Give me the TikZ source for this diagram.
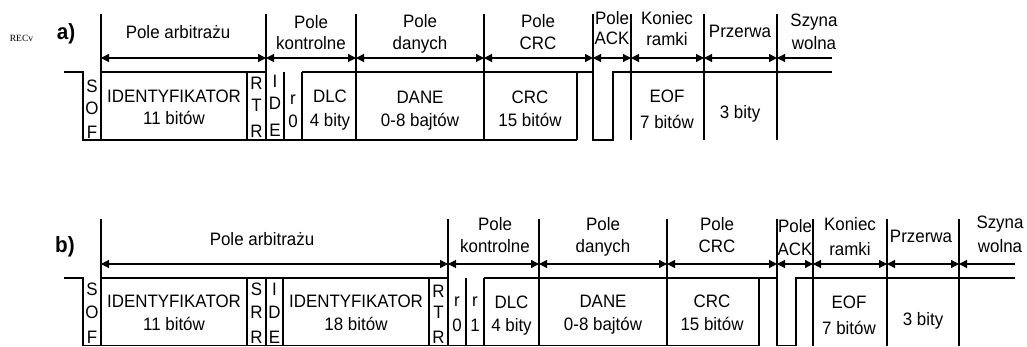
\documentclass[tikz,border=0pt]{standalone}
\usepackage{fontspec}
\setmainfont{Liberation Sans}[FakeStretch=0.94]
\newfontfamily\recfont{Liberation Serif}
\usetikzlibrary{arrows.meta}
\tikzset{
  ln/.style={line width=1.4pt},
  span/.style={line width=1.2pt,{Triangle[length=8pt,width=8pt]}-{Triangle[length=8pt,width=8pt]}},
  lspan/.style={line width=1.2pt,{Triangle[length=8pt,width=8pt]}-},
  lbl/.style={inner sep=0pt,anchor=base,font=\fontsize{18}{20}\selectfont},
  ttl/.style={inner sep=0pt,anchor=base,font=\fontsize{22}{24}\selectfont\bfseries},
}
\begin{document}
\begin{tikzpicture}[x=1pt,y=-1pt]
\useasboundingbox (0,0) rectangle (1027,347);
% ---------------- row a ----------------
\node[inner sep=0pt,anchor=base,font=\recfont\fontsize{9.5}{10}\selectfont] (rec) at (21.5,42) {RECv};
\node[ttl] (ta) at (66,40) {a)};
% signal
\draw[ln] (64,72) -- (83,72) -- (83,140) -- (577,140);
\draw[ln] (101,72) -- (266,72);
\draw[ln] (302,72) -- (593,72) -- (593,140) -- (613,140) -- (613,72) -- (832,72);
% full separators
\foreach \xx in {101,266,356,484,631,704,777} \draw[ln] (\xx,14) -- (\xx,140);
\draw[ln] (593,14) -- (593,72);
\foreach \xx in {247,284,302,577} \draw[ln] (\xx,72) -- (\xx,140);
% span arrows
\coordinate (a1) at (101,58);
\coordinate (a2) at (266,58);
\coordinate (a3) at (356,58);
\coordinate (a4) at (484,58);
\coordinate (a5) at (593,58);
\coordinate (a6) at (631,58);
\coordinate (a7) at (704,58);
\coordinate (a8) at (777,58);
\coordinate (a9) at (832,58);
\draw[span] (a1) -- (a2);
\draw[span] (a2) -- (a3);
\draw[span] (a3) -- (a4);
\draw[span] (a4) -- (a5);
\draw[span] (a5) -- (a6);
\draw[span] (a6) -- (a7);
\draw[span] (a7) -- (a8);
\draw[lspan] (a8) -- (a9);
% field labels
\node[lbl] (aarb) at (178,39) {Pole arbitrażu};
\node[lbl] (akon1) at (311,29) {Pole};
\node[lbl] (akon2) at (311,50) {kontrolne};
\node[lbl] (adan1) at (420,28) {Pole};
\node[lbl] (adan2) at (420,50) {danych};
\node[lbl] (acrc1) at (538,28) {Pole};
\node[lbl] (acrc2) at (538,50) {CRC};
\node[lbl] (aack1) at (612,25) {Pole};
\node[lbl] (aack2) at (612,45) {ACK};
\node[lbl] (akr1) at (667,25) {Koniec};
\node[lbl] (akr2) at (667,46) {ramki};
\node[lbl] (aprz) at (740,38) {Przerwa};
\node[lbl] (asz1) at (814,27) {Szyna};
\node[lbl] (asz2) at (814,50) {wolna};
% box texts
\foreach \ch/\yy [count=\i] in {S/93,O/115,F/139} \node[lbl] (asof\i) at (92,\yy) {\ch};
\foreach \ch/\yy [count=\i] in {R/90,T/112,R/138} \node[lbl] (artr\i) at (256.5,\yy) {\ch};
\foreach \ch/\yy [count=\i] in {I/88,D/110,E/137} \node[lbl] (aide\i) at (275,\yy) {\ch};
\node[lbl] (ar0a) at (293,105) {r};
\node[lbl] (ar0b) at (293,128) {0};
\node[lbl] (aid1) at (174,103) {IDENTYFIKATOR};
\node[lbl] (aid2) at (174,125) {11 bitów};
\node[lbl] (adlc1) at (330,103) {DLC};
\node[lbl] (adlc2) at (330,127) {4 bity};
\node[lbl] (adane1) at (420,104) {DANE};
\node[lbl] (adane2) at (420,127) {0-8 bajtów};
\node[lbl] (acrcb1) at (530,104) {CRC};
\node[lbl] (acrcb2) at (530,127) {15 bitów};
\node[lbl] (aeof1) at (667,103) {EOF};
\node[lbl] (aeof2) at (667,129) {7 bitów};
\node[lbl] (a3b) at (740,119) {3 bity};
% ---------------- row b ----------------
\node[ttl] (tb) at (65,252) {b)};
\draw[ln] (64,278) -- (83,278) -- (83,345.5) -- (759,345.5);
\draw[ln] (101,278) -- (448,278);
\draw[ln] (484,278) -- (777,278) -- (777,345.5) -- (796,345.5) -- (796,278) -- (1015,278);
\foreach \xx in {101,448,539,667,813,887,959} \draw[ln] (\xx,219) -- (\xx,345.5);
\draw[ln] (777,219) -- (777,278);
\foreach \xx in {247,266,283,429,466,484,759} \draw[ln] (\xx,278) -- (\xx,345.5);
\coordinate (b1) at (101,264);
\coordinate (b2) at (448,264);
\coordinate (b3) at (539,264);
\coordinate (b4) at (667,264);
\coordinate (b5) at (777,264);
\coordinate (b6) at (813,264);
\coordinate (b7) at (887,264);
\coordinate (b8) at (959,264);
\coordinate (b9) at (1015,264);
\draw[span] (b1) -- (b2);
\draw[span] (b2) -- (b3);
\draw[span] (b3) -- (b4);
\draw[span] (b4) -- (b5);
\draw[span] (b5) -- (b6);
\draw[span] (b6) -- (b7);
\draw[span] (b7) -- (b8);
\draw[lspan] (b8) -- (b9);
\node[lbl] (barb) at (262,246) {Pole arbitrażu};
\node[lbl] (bkon1) at (495,231) {Pole};
\node[lbl] (bkon2) at (495,253) {kontrolne};
\node[lbl] (bdan1) at (603,231) {Pole};
\node[lbl] (bdan2) at (603,253) {danych};
\node[lbl] (bcrc1) at (717,231) {Pole};
\node[lbl] (bcrc2) at (717,253) {CRC};
\node[lbl] (back1) at (795,233) {Pole};
\node[lbl] (back2) at (795,255) {ACK};
\node[lbl] (bkr1) at (850,231) {Koniec};
\node[lbl] (bkr2) at (850,255) {ramki};
\node[lbl] (bprz) at (921,243) {Przerwa};
\node[lbl] (bsz1) at (1000,229) {Szyna};
\node[lbl] (bsz2) at (1000,253) {wolna};
\foreach \ch/\yy [count=\i] in {S/295,O/318,F/343} \node[lbl] (bsof\i) at (92,\yy) {\ch};
\foreach \ch/\yy [count=\i] in {S/295,R/318,R/343} \node[lbl] (bsrr\i) at (256.5,\yy) {\ch};
\foreach \ch/\yy [count=\i] in {I/295,D/318,E/343} \node[lbl] (bide\i) at (274.5,\yy) {\ch};
\foreach \ch/\yy [count=\i] in {R/297,T/318,R/343} \node[lbl] (brtr\i) at (438.5,\yy) {\ch};
\node[lbl] (br0a) at (457,306) {r};
\node[lbl] (br0b) at (457,331) {0};
\node[lbl] (br1a) at (475,306) {r};
\node[lbl] (br1b) at (475,331) {1};
\node[lbl] (bid1) at (174,307) {IDENTYFIKATOR};
\node[lbl] (bid2) at (174,330) {11 bitów};
\node[lbl] (bidx1) at (356,307) {IDENTYFIKATOR};
\node[lbl] (bidx2) at (356,330) {18 bitów};
\node[lbl] (bdlc1) at (511.5,308) {DLC};
\node[lbl] (bdlc2) at (511.5,331) {4 bity};
\node[lbl] (bdane1) at (603,307) {DANE};
\node[lbl] (bdane2) at (603,330) {0-8 bajtów};
\node[lbl] (bcrcb1) at (712,307) {CRC};
\node[lbl] (bcrcb2) at (712,330) {15 bitów};
\node[lbl] (beof1) at (849,308) {EOF};
\node[lbl] (beof2) at (849,334) {7 bitów};
\node[lbl] (b3b) at (923,325) {3 bity};
\end{tikzpicture}
\end{document}
